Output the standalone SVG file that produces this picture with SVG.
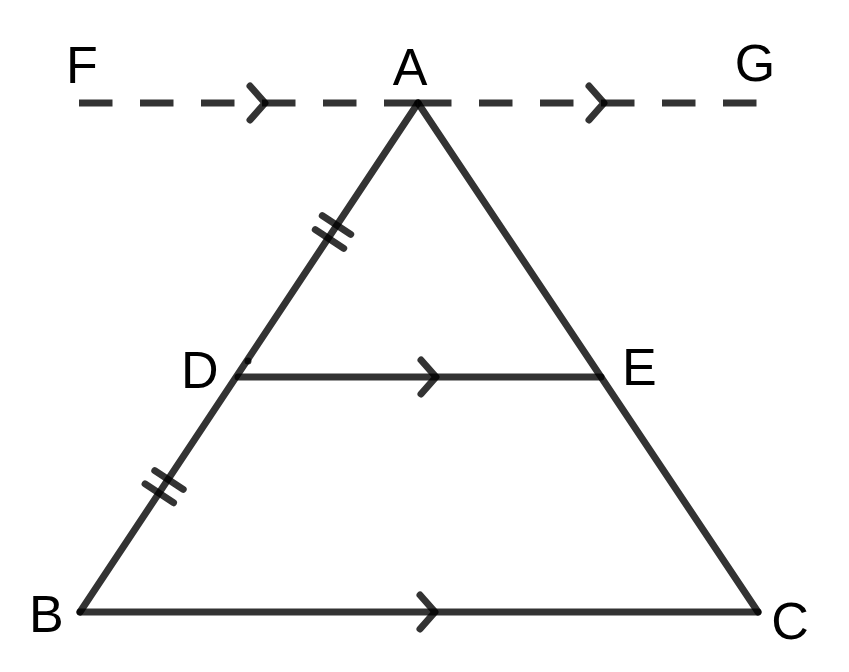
<svg xmlns="http://www.w3.org/2000/svg" width="849" height="672" viewBox="0 0 849 672">
  <style>
    .ln { stroke: #000; stroke-opacity: 0.8; stroke-width: 7; fill: none; stroke-linecap: round; stroke-linejoin: round; }
    .dash { stroke: #000; stroke-opacity: 0.8; stroke-width: 7; fill: none; stroke-linecap: butt; stroke-dasharray: 33.5 27.5; }
    .lbl { font-family: "Liberation Sans", Arial, sans-serif; font-size: 52px; fill: #000; }
  </style>
  <rect width="849" height="672" fill="#fff"/>
  <g id="connectors">
    <line class="dash" x1="79" y1="103" x2="418" y2="103"/>
    <line class="dash" x1="418" y1="103" x2="758" y2="103"/>
    <line class="ln" x1="418" y1="103" x2="80" y2="612"/>
    <line class="ln" x1="418" y1="103" x2="758" y2="612"/>
    <line class="ln" x1="80" y1="612" x2="758" y2="612"/>
    <line class="ln" x1="238" y1="377" x2="601" y2="377"/>
  </g>
  <g id="marks">
    <polyline class="ln" points="250,86 265,103 250,120"/>
    <polyline class="ln" points="589,86 604,103 589,120"/>
    <polyline class="ln" points="421,360 436,377 421,394"/>
    <polyline class="ln" points="420,595 435,612 420,629"/>
    <line class="ln" x1="322.3" y1="215.6" x2="350.7" y2="234.4"/>
    <line class="ln" x1="315.3" y1="229.6" x2="343.7" y2="248.4"/>
    <line class="ln" x1="154.8" y1="470.6" x2="183.2" y2="489.4"/>
    <line class="ln" x1="145.1" y1="483.9" x2="173.5" y2="502.7"/>
    <circle cx="248" cy="361" r="3.5" fill="#000" fill-opacity="0.8"/>
  </g>
  <g id="node-F"><text class="lbl" x="66" y="83">F</text></g>
  <g id="node-A"><text class="lbl" x="410" y="85" text-anchor="middle">A</text></g>
  <g id="node-G"><text class="lbl" x="755" y="81" text-anchor="middle">G</text></g>
  <g id="node-D"><text class="lbl" x="181" y="388">D</text></g>
  <g id="node-E"><text class="lbl" x="622" y="385">E</text></g>
  <g id="node-B"><text class="lbl" x="29" y="632">B</text></g>
  <g id="node-C"><text class="lbl" x="790" y="639" text-anchor="middle">C</text></g>
</svg>
